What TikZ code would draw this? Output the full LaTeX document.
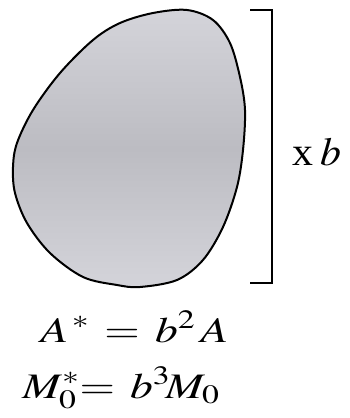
\documentclass[tikz,border=0pt]{standalone}
\usepackage{mathptmx}
\usepackage{fontspec}
\setmainfont{Liberation Serif}
\usepackage{tikz}
\usetikzlibrary{positioning}
\definecolor{eggfill}{RGB}{212,212,218}
\definecolor{eggdark}{RGB}{188,188,194}
\tikzset{
  outline/.style={line width=2bp, black},
  bigtext/.style={inner sep=0pt, font=\fontsize{36}{40}\selectfont},
  wide/.style={bigtext, xscale=1.27, anchor=base west}
}
\newcommand{\eggpath}{plot[smooth cycle, tension=0.55] coordinates {
  (153,13) (187,10) (213,20) (230,43) (240,77) (245,110) (243,150)
  (237,187) (223,227) (203,260) (177,280) (140,287) (117,285) (83,277)
  (50,253) (27,223) (15,193) (13,167) (17,143) (33,110) (60,73)
  (93,40) (120,23)}}
\begin{document}
\begin{tikzpicture}[x=1bp, y=-1bp]
  \useasboundingbox (0,0) rectangle (350,418);
  % egg
  \shade[top color=eggfill, bottom color=eggfill, middle color=eggdark] \eggpath;
  \draw[outline] \eggpath;
  % bracket
  \coordinate (brtop) at (272,10);
  \coordinate (brbot) at (272,283);
  \draw[outline] (250,10) -- (brtop) -- (brbot) -- (250,283);
  \node[bigtext, anchor=base west, font=\fontsize{40}{44}\selectfont, xscale=1.05] (scale) at (292,165) {x\,$b$};
  % formulas
  \node[wide, text depth=0pt] (area) at (40,342) {$A^{\,*}\mkern2mu = \mkern2mu b^{2}\,A$};
  \node[wide, text height=26bp] (moment) at (22,398) {$M_0^{*}\!\!= \mkern2mu b^{3}\!M_0$};
\end{tikzpicture}
\end{document}
